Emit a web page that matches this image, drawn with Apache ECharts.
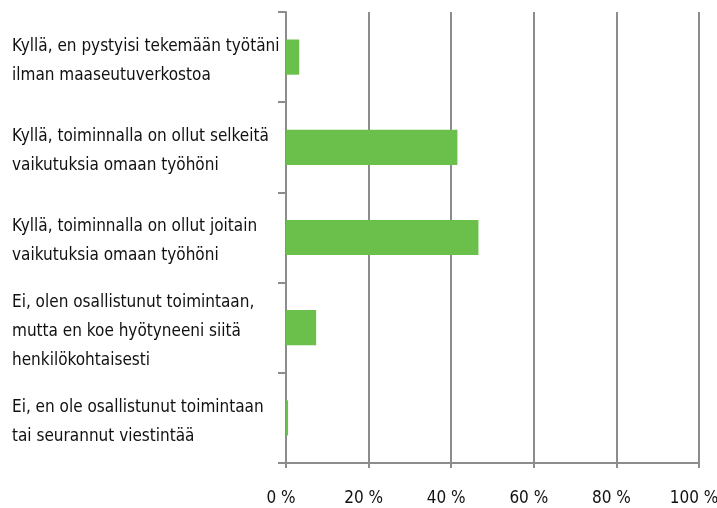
<!DOCTYPE html>
<html>
<head>
<meta charset="utf-8">
<script src="https://cdn.jsdelivr.net/npm/echarts@6/dist/echarts.min.js"></script>
<style>
  html, body { margin: 0; padding: 0; background: #fff; }
  #chart { width: 717px; height: 508px; }
</style>
</head>
<body>
<div id="chart"></div>
<script>
// answer options, top to bottom
const categories = [
    'Kyllä, en pystyisi tekemään työtäni\nilman maaseutuverkostoa',
    'Kyllä, toiminnalla on ollut selkeitä\nvaikutuksia omaan työhöni',
    'Kyllä, toiminnalla on ollut joitain\nvaikutuksia omaan työhöni',
    'Ei, olen osallistunut toimintaan,\nmutta en koe hyötyneeni siitä\nhenkilökohtaisesti',
    'Ei, en ole osallistunut toimintaan\ntai seurannut viestintää',
]
// share of respondents, %
const values = [3.2, 41.5, 46.6, 7.3, 0.5]
const xTicks = [0, 20, 40, 60, 80, 100]

const font = "'Liberation Sans Narrow', 'DejaVu Sans Condensed', sans-serif"
const gray = '#8c8c8c'

const chart = echarts.init(document.getElementById('chart'))

chart.setOption({
    animation: false,
    backgroundColor: '#fff',
    grid: {
        left: 286,
        right: 18,
        top: 12,
        bottom: 45,
        outerBoundsMode: 'none',
    },
    xAxis: {
        type: 'value',
        min: xTicks[0],
        max: xTicks[xTicks.length - 1],
        interval: 20,
        axisLine: { show: true, lineStyle: { color: gray, width: 2 } },
        axisTick: { show: true, length: 5, lineStyle: { color: gray, width: 2 } },
        splitLine: { show: true, lineStyle: { color: gray, width: 2 } },
        axisLabel: {
            formatter: '{value} %',
            color: '#111',
            fontFamily: font,
            fontSize: 17,
            margin: 27,
            padding: [0, 10, 0, 0],
        },
    },
    yAxis: {
        type: 'category',
        inverse: true,
        data: categories,
        axisLine: { show: true, lineStyle: { color: gray, width: 2 } },
        axisTick: { show: true, length: 8, lineStyle: { color: gray, width: 2 } },
        axisLabel: {
            align: 'left',
            margin: 274,
            // small empty first line nudges the block down a little
            formatter: (v) => '{s| }\n' + v.split('\n').map((l) => '{t|' + l + '}').join('\n'),
            rich: {
                s: { fontSize: 6, lineHeight: 8 },
                t: {
                    color: '#111',
                    fontFamily: font,
                    fontSize: 17,
                    lineHeight: 29,
                },
            },
        },
    },
    series: [{
        type: 'bar',
        data: values,
        barWidth: '39%',
        itemStyle: { color: '#6bbf4b' },
    }],
})
</script>
</body>
</html>
